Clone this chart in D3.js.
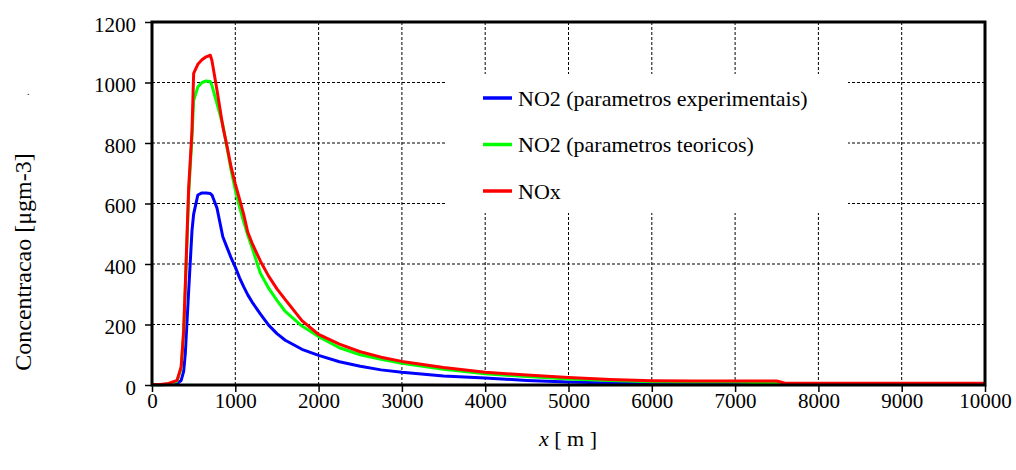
<!DOCTYPE html>
<meta charset="utf-8">
<head>
	<title>Concentracao NO2 / NOx</title>
	<script src="https://d3js.org/d3.v7.min.js"></script>
	<style>
		body { margin: 0; background: #fff; }
		text { font-family: "Liberation Serif", "Times New Roman", serif; fill: #000; }
	</style>
</head>
<body>
<script>

	// data
	const distance = [0, 100, 200, 300, 350, 380, 400, 440, 480, 500,
		550, 600, 650, 700, 720, 780, 850, 900, 950, 1000,
		1050, 1100, 1150, 1200, 1300, 1400, 1500, 1600, 1800, 2000,
		2250, 2500, 2750, 3000, 3500, 4000, 4500, 5000, 5500, 6000,
		6500, 7000, 7500, 7600, 8000, 9000, 10000];
	const no2Experimental = [1, 1, 2, 5, 15, 45, 105, 310, 510, 565,
		628, 635, 635, 633, 628, 585, 490, 455, 420, 390,
		355, 325, 298, 275, 235, 198, 170, 148, 118, 98,
		77, 62, 50, 42, 30, 23, 15, 10, 7, 5,
		5, 5, 4, 4, 4, 4, 4];
	const no2Teorico = [1, 1, 3, 12, 55, 170, 320, 630, 820, 940,
		985, 1000, 1005, 1003, 990, 930, 860, 785, 710, 645,
		590, 540, 495, 455, 370, 320, 280, 243, 195, 160,
		123, 100, 85, 72, 52, 37, 28, 20, 15, 11,
		10, 10, 6, 5, 5, 5, 5];
	const nox = [2, 2, 5, 15, 60, 180, 330, 650, 840, 1030,
		1060, 1075, 1085, 1090, 1072, 975, 855, 790, 720, 665,
		615, 565, 505, 470, 410, 360, 318, 282, 213, 167,
		135, 110, 92, 78, 58, 42, 33, 25, 18, 14,
		13, 13, 13, 6, 6, 6, 6];

	const seriesNames = ['NO2 (parametros experimentais)', 'NO2 (parametros teoricos)', 'NOx'];
	const seriesColors = ['#0000ff', '#00ff00', '#ff0000'];
	const seriesValues = [no2Experimental, no2Teorico, nox];

	const xTicks = [0, 1000, 2000, 3000, 4000, 5000, 6000, 7000, 8000, 9000, 10000];
	const yTicks = [0, 200, 400, 600, 800, 1000, 1200];

	const margin = {top: 22, right: 31, bottom: 85, left: 152};
	const width = 1016;
	const height = 470;
	const innerW = width - margin.left - margin.right;
	const innerH = height - margin.top - margin.bottom;

	var svg = d3.select('body')
		.append('svg')
		.attr('width', width)
		.attr('height', height);

	var g = svg.append('g')
		.attr('transform', `translate(${margin.left},${margin.top})`);

	var x = d3.scaleLinear().domain([0, 10000]).range([0, innerW]);
	var y = d3.scaleLinear().domain([0, 1200]).range([innerH, 0]);

	// gridlines
	g.append('g')
		.selectAll('line')
		.data(xTicks.slice(1, -1))
		.enter().append('line')
			.attr('x1', d => x(d)).attr('x2', d => x(d))
			.attr('y1', 0).attr('y2', innerH)
			.style('stroke', '#000')
			.style('stroke-width', 1)
			.style('stroke-dasharray', '3,2');

	g.append('g')
		.selectAll('line')
		.data(yTicks.slice(1, -1))
		.enter().append('line')
			.attr('x1', 0).attr('x2', innerW)
			.attr('y1', d => y(d)).attr('y2', d => y(d))
			.style('stroke', '#000')
			.style('stroke-width', 1)
			.style('stroke-dasharray', '3,2');

	// axes
	var xAxis = g.append('g')
		.attr('transform', `translate(0,${innerH})`)
		.call(d3.axisBottom(x).tickValues(xTicks).tickSize(7).tickPadding(1).tickFormat(d3.format('d')));
	var yAxis = g.append('g')
		.call(d3.axisLeft(y).tickValues(yTicks).tickSize(7).tickPadding(9).tickFormat(d3.format('d')));

	[xAxis, yAxis].forEach(a => {
		a.select('.domain').remove();
		a.selectAll('line').style('stroke', '#000').style('stroke-width', 1.5);
		a.selectAll('text')
			.style('font-family', '"Liberation Serif", "Times New Roman", serif')
			.style('font-size', '21px')
			.style('fill', '#000');
	});
	yAxis.selectAll('text').attr('dy', '0.45em');

	// the lines
	var line = d3.line()
		.x((d, i) => x(distance[i]))
		.y(d => y(d));

	g.append('g')
		.attr('class', 'series')
		.selectAll('path')
		.data(seriesValues)
		.enter().append('path')
			.attr('d', line)
			.style('fill', 'none')
			.style('stroke', (d, i) => seriesColors[i])
			.style('stroke-width', 3)
			.style('stroke-linejoin', 'round');

	// plot frame
	g.append('rect')
		.attr('x', 0).attr('y', 0)
		.attr('width', innerW).attr('height', innerH)
		.style('fill', 'none')
		.style('stroke', '#000')
		.style('stroke-width', 3);

	// legend
	var legend = svg.append('g').attr('class', 'legend');
	legend.append('rect')
		.attr('x', 446).attr('y', 74)
		.attr('width', 402).attr('height', 139)
		.style('fill', '#fff');

	var item = legend.selectAll('g')
		.data(seriesNames)
		.enter().append('g')
			.attr('transform', (d, i) => `translate(483,${98 + i * 46.5})`);
	item.append('line')
		.attr('x1', 0).attr('x2', 29)
		.style('stroke', (d, i) => seriesColors[i])
		.style('stroke-width', 3.5);
	item.append('text')
		.attr('x', 35)
		.attr('dy', '0.35em')
		.style('font-size', '22px')
		.text(d => d);

	// axis titles
	svg.append('text')
		.attr('transform', 'translate(31,262) rotate(-90)')
		.attr('text-anchor', 'middle')
		.style('font-size', '24px')
		.text('Concentracao [μgm-3]');

	svg.append('text')
		.attr('x', 27).attr('y', 95)
		.style('font-size', '10px')
		.text('.');

	var xTitle = svg.append('text')
		.attr('x', 568).attr('y', 446)
		.attr('text-anchor', 'middle')
		.style('font-size', '22px');
	xTitle.append('tspan').style('font-style', 'italic').text('x');
	xTitle.append('tspan').text(' [ m ]');

</script>
</body>
</html>
